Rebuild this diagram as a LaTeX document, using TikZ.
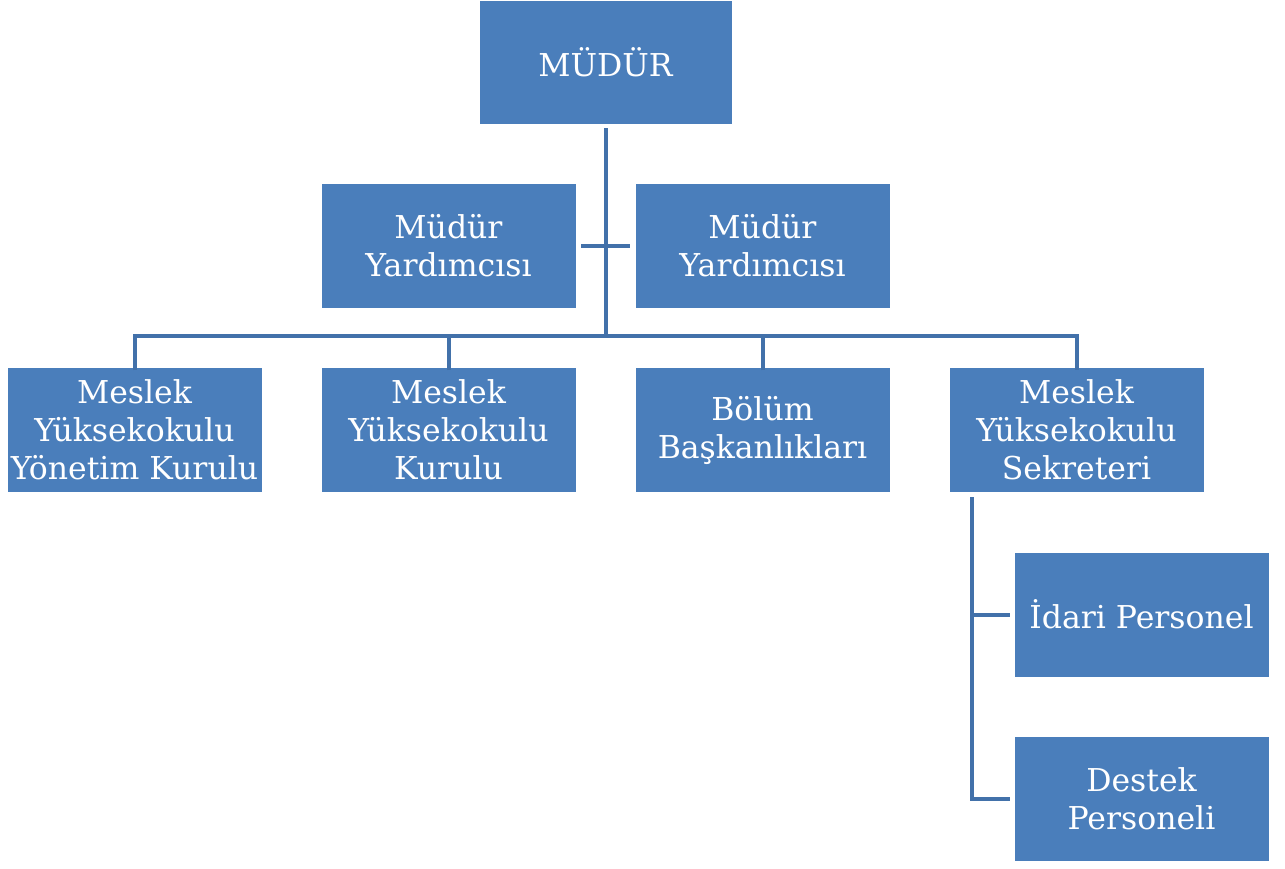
\documentclass[tikz,border=0pt]{standalone}
\usepackage{fontspec}
\setmainfont{DejaVu Serif}
\definecolor{boxblue}{HTML}{4A7EBB}
\definecolor{lineblue}{HTML}{4271AA}
\begin{document}
\begin{tikzpicture}[x=1pt,y=-1pt,
  orgbox/.style={fill=boxblue,draw=white,line width=0.8pt,minimum width=255pt,minimum height=125pt,
    text=white,align=center,inner sep=0pt,font=\fontsize{31.5}{38}\selectfont},
  conn/.style={draw=lineblue,line width=4pt}]
\useasboundingbox (0,0) rectangle (1285,869);
\node[orgbox,minimum width=253pt,minimum height=124pt] (m) at (605.5,62) {MÜDÜR};
\node[orgbox] (y1) at (448.5,246) {Müdür\\Yardımcısı};
\node[orgbox] (y2) at (762.5,246) {Müdür\\Yardımcısı};
\node[orgbox] (b1) at (134.5,430) {Meslek\\Yüksekokulu\\Yönetim Kurulu};
\node[orgbox] (b2) at (448.5,430) {Meslek\\Yüksekokulu\\Kurulu};
\node[orgbox] (b3) at (762.5,430) {Bölüm\\Başkanlıkları};
\node[orgbox] (b4) at (1076.5,430) {Meslek\\Yüksekokulu\\Sekreteri};
\node[orgbox] (p1) at (1141.5,614.5) {İdari Personel};
\node[orgbox] (p2) at (1141.5,799) {Destek\\Personeli};
\coordinate (bus) at (605.5,336);
\coordinate (sx) at (972,497);
\draw[conn] ([yshift=-4pt]m.south) -- (bus);
\draw[conn] ([xshift=5pt]y1.east) -- ([xshift=-5pt]y2.west);
\draw[conn] ([yshift=-3pt]b1.north) |- (bus) -| ([yshift=-3pt]b4.north);
\draw[conn] ([yshift=-3pt]b2.north) -- (b2.north |- bus);
\draw[conn] ([yshift=-3pt]b3.north) -- (b3.north |- bus);
\draw[conn] (sx) |- ([xshift=-4pt]p2.west);
\draw[conn] (sx |- p1.west) -- ([xshift=-4pt]p1.west);
\end{tikzpicture}
\end{document}
